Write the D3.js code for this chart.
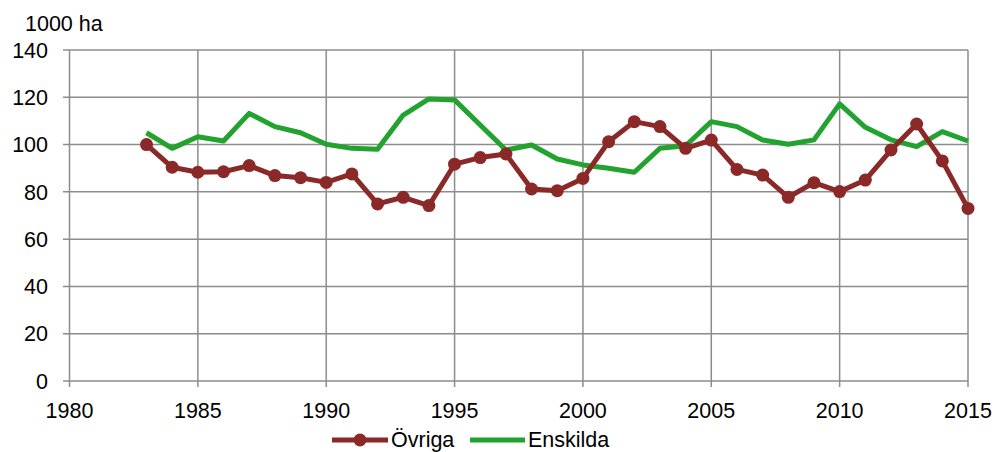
<!DOCTYPE html>
<html><head><meta charset="utf-8">
<script src="https://cdn.jsdelivr.net/npm/d3@7"></script>
<style>body{margin:0;background:#fff}svg{display:block;font-family:"Liberation Sans",Arial,sans-serif}</style>
</head><body><svg id="c" width="998" height="452"></svg>
<script>
const years = d3.range(1983, 2016);
const ovriga = [100,90.4,88.3,88.5,91.1,86.9,86,84,87.6,74.9,77.7,74.2,91.7,94.5,96,81.2,80.5,85.7,101.2,109.7,107.6,98.4,101.9,89.5,87.1,77.7,83.9,80.1,85,97.7,108.7,93.1,73];
const enskilda = [105,98.4,103.3,101.5,113.2,107.6,105,100.1,98.4,98,112.5,119.3,118.9,108.3,97.7,99.8,93.9,91.4,90,88.3,98.4,99.5,109.7,107.6,101.9,100.1,102,117.2,107.3,102,99.1,105.5,101.5];
const xTicks = [1980,1985,1990,1995,2000,2005,2010,2015];
const yTicks = [0,20,40,60,80,100,120,140];
const seriesNames = ["Övriga","Enskilda"];
const colors = {"Övriga":"#8B2929","Enskilda":"#22A22F"};
const unitLabel = "1000 ha";

const svg = d3.select("#c");
const x = d3.scaleLinear().domain([1980,2015]).range([69.5,968]);
const y = d3.scaleLinear().domain([0,140]).range([381,50]);
const grid = "#8c8c8c";

svg.append("g").selectAll("line").data(yTicks).join("line")
  .attr("x1",63).attr("x2",968).attr("y1",d=>y(d)).attr("y2",d=>y(d))
  .attr("stroke",grid).attr("stroke-width",1.5);
svg.append("g").selectAll("line").data(xTicks).join("line")
  .attr("x1",d=>x(d)).attr("x2",d=>x(d)).attr("y1",50).attr("y2",387)
  .attr("stroke",grid).attr("stroke-width",1.5);

svg.append("g").selectAll("text").data(yTicks).join("text")
  .attr("x",48).attr("y",d=>y(d)).attr("dy","0.36em").attr("text-anchor","end")
  .attr("font-size",21.5).attr("fill","#000").text(d=>d);
svg.append("g").selectAll("text").data(xTicks).join("text")
  .attr("x",d=>x(d)).attr("y",418).attr("text-anchor","middle")
  .attr("font-size",21.5).attr("fill","#000").text(d=>d);

svg.append("text").attr("x",25).attr("y",31).attr("font-size",21.5).text(unitLabel);

const line = d3.line().x(d=>x(d[0])).y(d=>y(d[1]));
const ensData = years.map((yr,i)=>[yr,enskilda[i]]);
const ovrData = years.map((yr,i)=>[yr,ovriga[i]]);
svg.append("path").datum(ensData).attr("d",line).attr("fill","none")
  .attr("stroke",colors["Enskilda"]).attr("stroke-width",5).attr("stroke-linejoin","round");
svg.append("path").datum(ovrData).attr("d",line).attr("fill","none")
  .attr("stroke",colors["Övriga"]).attr("stroke-width",5).attr("stroke-linejoin","round");
svg.append("g").selectAll("circle").data(ovrData).join("circle")
  .attr("cx",d=>x(d[0])).attr("cy",d=>y(d[1])).attr("r",6.5).attr("fill",colors["Övriga"]);

const lg = svg.append("g");
lg.append("line").attr("x1",332).attr("x2",388).attr("y1",440).attr("y2",440)
  .attr("stroke",colors["Övriga"]).attr("stroke-width",5);
lg.append("circle").attr("cx",360).attr("cy",440).attr("r",6.5).attr("fill",colors["Övriga"]);
lg.append("text").attr("x",391).attr("y",447).attr("font-size",21.5).text(seriesNames[0]);
lg.append("line").attr("x1",470).attr("x2",525).attr("y1",440).attr("y2",440)
  .attr("stroke",colors["Enskilda"]).attr("stroke-width",5);
lg.append("text").attr("x",528).attr("y",447).attr("font-size",21.5).text(seriesNames[1]);
</script></body></html>
